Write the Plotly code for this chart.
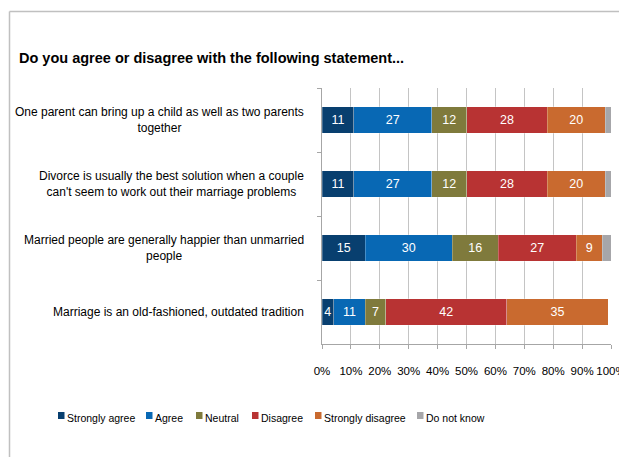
import plotly.graph_objects as go

# ---- data ----
statements = [
    "One parent can bring up a child as well as two parents<br>together",
    "Divorce is usually the best solution when a couple<br>can't seem to work out their marriage problems",
    "Married people are generally happier than unmarried<br>people",
    "Marriage is an old-fashioned, outdated tradition",
]
series_names = ["Strongly agree", "Agree", "Neutral", "Disagree", "Strongly disagree", "Do not know"]
strongly_agree = [11, 11, 15, 4]
agree = [27, 27, 30, 11]
neutral = [12, 12, 16, 7]
disagree = [28, 28, 27, 42]
strongly_disagree = [20, 20, 9, 35]
do_not_know = [2, 2, 3, 0]
x_ticks = [0, 10, 20, 30, 40, 50, 60, 70, 80, 90, 100]

series_values = [strongly_agree, agree, neutral, disagree, strongly_disagree, do_not_know]
colors = ["#083F6F", "#0868B4", "#7F7A3C", "#B83333", "#C96A2F", "#A6A6A9"]

# page body has an 8px margin; work in screen pixels and convert
OFF = 8
W, H = 627 - OFF, 457 - OFF
PLOT_L, PLOT_R, PLOT_T, PLOT_B = 322, 611, 88, 344  # screen pixels
L, T = PLOT_L - OFF, PLOT_T - OFF
R, B = W - (PLOT_R - OFF), H - (PLOT_B - OFF)
PW, PH = PLOT_R - PLOT_L, PLOT_B - PLOT_T

def px(x):
    return (x - PLOT_L) / PW

def py(y):
    return (PLOT_B - y) / PH

FONT = "Liberation Sans, Arial, sans-serif"

fig = go.Figure()
for name, vals, col in zip(series_names, series_values, colors):
    show_text = name != "Do not know"
    fig.add_trace(go.Bar(
        y=statements, x=vals, name=name, orientation="h",
        marker=dict(color=col, line=dict(color="rgba(255,255,255,0.5)", width=0.5)),
        text=[str(v) if show_text else "" for v in vals],
        textposition="inside", insidetextanchor="middle", constraintext="none",
        textfont=dict(color="white", size=12.5, family=FONT),
        width=0.41, showlegend=False, hoverinfo="skip",
    ))

fig.update_layout(
    barmode="stack",
    width=W, height=H, autosize=False,
    margin=dict(l=L, r=R, t=T, b=B, pad=0),
    plot_bgcolor="white", paper_bgcolor="white",
    font=dict(family=FONT, size=12, color="#000000"),
    xaxis=dict(
        range=[0, 100], tickvals=x_ticks, ticktext=[f"{v}%" for v in x_ticks],
        showgrid=True, gridcolor="#C4C4C4", gridwidth=1,
        showline=True, linecolor="#A6A6A6", linewidth=1,
        ticks="outside", ticklen=4, tickcolor="#A6A6A6",
        tickfont=dict(size=11.5), ticklabelstandoff=12,
        zeroline=False, fixedrange=True,
    ),
    yaxis=dict(
        categoryorder="array", categoryarray=statements,
        autorange="reversed",
        showticklabels=False, showgrid=False,
        showline=True, linecolor="#A6A6A6", linewidth=1,
        ticks="outside", ticklen=4, tickcolor="#A6A6A6", tickson="boundaries",
        zeroline=False, fixedrange=True,
    ),
    showlegend=False,
)

annotations = []
# title
annotations.append(dict(
    text="<b>Do you agree or disagree with the following statement...</b>",
    xref="paper", yref="paper", x=px(17), y=py(58), xanchor="left", yanchor="middle",
    showarrow=False, font=dict(size=14.5, family=FONT, color="#000000"),
))
# category labels
for s in statements:
    annotations.append(dict(
        text=s, xref="paper", yref="y", x=px(306), y=s,
        xanchor="right", yanchor="middle", align="center", showarrow=False,
        font=dict(size=12, family=FONT, color="#000000"),
    ))

# legend (squares + text)
legend_sq_x = [58, 146, 196, 252, 315, 417]
shapes = []
for name, col, sx in zip(series_names, colors, legend_sq_x):
    shapes.append(dict(type="rect", xref="paper", yref="paper",
                       x0=px(sx), x1=px(sx + 6.5), y0=py(419), y1=py(412),
                       fillcolor=col, line=dict(width=0)))
    annotations.append(dict(
        text=name, xref="paper", yref="paper", x=px(sx + 7), y=py(417.5),
        xanchor="left", yanchor="middle", showarrow=False,
        font=dict(size=10.5, family=FONT, color="#000000"),
    ))

# outer frame
shapes.append(dict(type="line", xref="paper", yref="paper",
                   x0=px(9.5), x1=px(640), y0=py(11.5), y1=py(11.5),
                   line=dict(color="#C0C0C0", width=1.5)))
shapes.append(dict(type="line", xref="paper", yref="paper",
                   x0=px(9.5), x1=px(9.5), y0=py(11.5), y1=py(470),
                   line=dict(color="#C0C0C0", width=1.5)))

fig.update_layout(annotations=annotations, shapes=shapes)
fig.write_html("out.html")
